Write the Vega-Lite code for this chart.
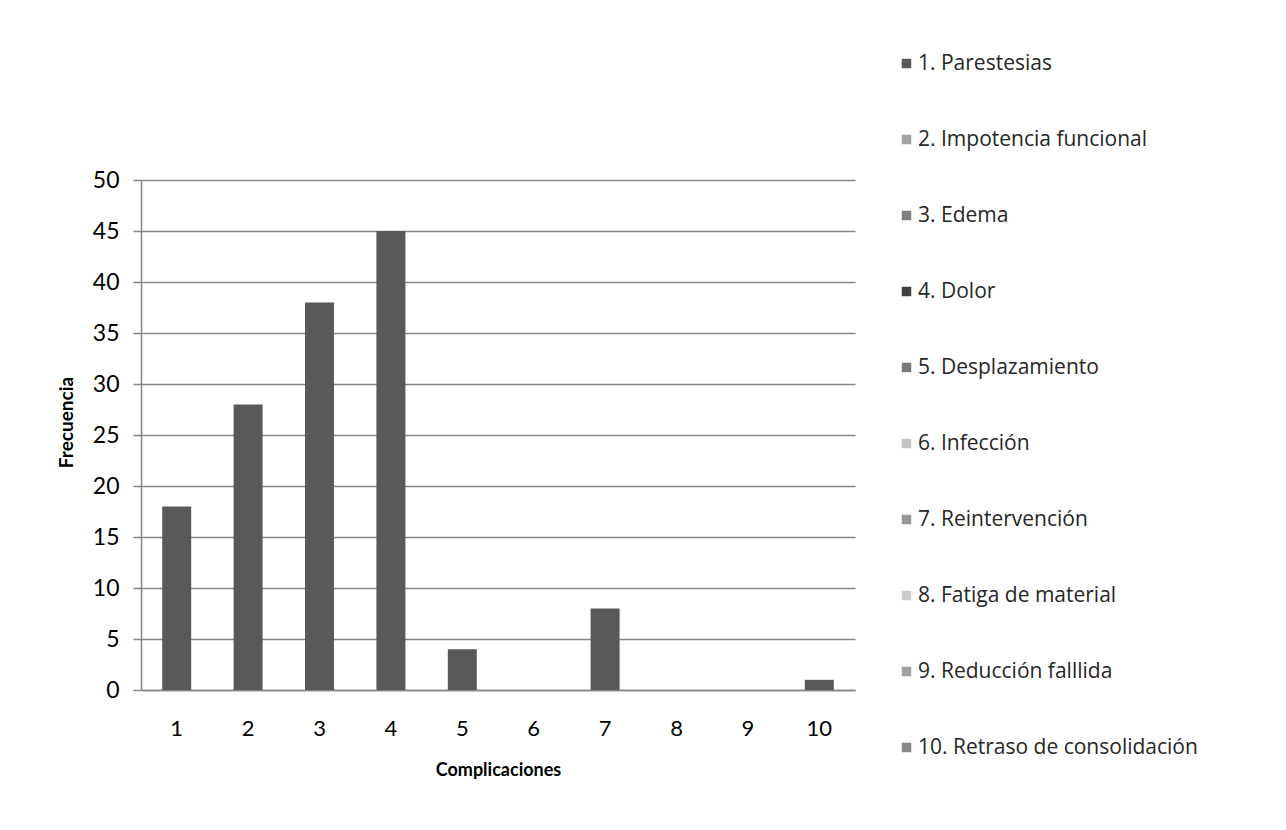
{
  "$schema": "https://vega.github.io/schema/vega-lite/v6.json",
  "width": 714,
  "height": 510,
  "autosize": {"type": "none"},
  "padding": {"left": 141, "top": 180, "right": 431, "bottom": 140},
  "background": "#ffffff",
  "config": {
    "font": "Lato",
    "view": {"stroke": null},
    "axis": {
      "labelFont": "Lato",
      "titleFont": "Lato",
      "labelColor": "#000000",
      "titleColor": "#000000",
      "domainColor": "#868686",
      "domainWidth": 1.5,
      "gridColor": "#868686",
      "gridWidth": 1.5,
      "tickColor": "#868686",
      "tickWidth": 1.5
    },
    "legend": {"labelFont": "Open Sans"}
  },
  "data": {
    "values": [
      {"complicacion": "1", "etiqueta": "1. Parestesias", "frecuencia": 18},
      {"complicacion": "2", "etiqueta": "2. Impotencia funcional", "frecuencia": 28},
      {"complicacion": "3", "etiqueta": "3. Edema", "frecuencia": 38},
      {"complicacion": "4", "etiqueta": "4. Dolor", "frecuencia": 45},
      {"complicacion": "5", "etiqueta": "5. Desplazamiento", "frecuencia": 4},
      {"complicacion": "6", "etiqueta": "6. Infección", "frecuencia": 0},
      {"complicacion": "7", "etiqueta": "7. Reintervención", "frecuencia": 8},
      {"complicacion": "8", "etiqueta": "8. Fatiga de material", "frecuencia": 0},
      {"complicacion": "9", "etiqueta": "9. Reducción falllida", "frecuencia": 0},
      {"complicacion": "10", "etiqueta": "10. Retraso de consolidación", "frecuencia": 1}
    ]
  },
  "encoding": {
    "x": {
      "field": "complicacion",
      "type": "ordinal",
      "sort": null,
      "scale": {"paddingInner": 0.594, "paddingOuter": 0.297},
      "axis": {
        "title": "Complicaciones",
        "titleFontSize": 18,
        "titleFontWeight": "bold",
        "titlePadding": 22,
        "labelAngle": 0,
        "labelFontSize": 22,
        "labelFontWeight": "normal",
        "labelPadding": 28,
        "ticks": false,
        "grid": false
      }
    },
    "y": {
      "field": "frecuencia",
      "type": "quantitative",
      "scale": {"domain": [0, 50], "nice": false},
      "axis": {
        "title": "Frecuencia",
        "titleFontSize": 19,
        "titleFontWeight": "bold",
        "titlePadding": 16,
        "titleY": 242,
        "values": [0, 5, 10, 15, 20, 25, 30, 35, 40, 45, 50],
        "labelFontSize": 23,
        "labelPadding": 14,
        "tickSize": 8,
        "grid": true
      }
    }
  },
  "layer": [
    {
      "mark": {"type": "bar", "color": "#595959"}
    },
    {
      "mark": {"type": "square", "opacity": 0, "size": 1},
      "encoding": {
        "color": {
          "field": "etiqueta",
          "type": "nominal",
          "sort": null,
          "scale": {
            "domain": ["1. Parestesias", "2. Impotencia funcional", "3. Edema", "4. Dolor", "5. Desplazamiento", "6. Infección", "7. Reintervención", "8. Fatiga de material", "9. Reducción falllida", "10. Retraso de consolidación"],
            "range": ["#595959", "#a3a3a3", "#7f7f7f", "#404040", "#7a7a7a", "#c4c4c4", "#979797", "#cccccc", "#a0a0a0", "#8a8a8a"]
          },
          "legend": {
            "title": null,
            "orient": "none",
            "legendX": 755,
            "legendY": -127,
            "padding": 0,
            "symbolType": "square",
            "symbolSize": 90,
            "symbolOpacity": 1,
            "symbolStrokeWidth": 0,
            "labelFontSize": 21,
            "labelColor": "#262626",
            "labelOffset": 1,
            "labelLimit": 400,
            "rowPadding": 54
          }
        }
      }
    }
  ]
}
